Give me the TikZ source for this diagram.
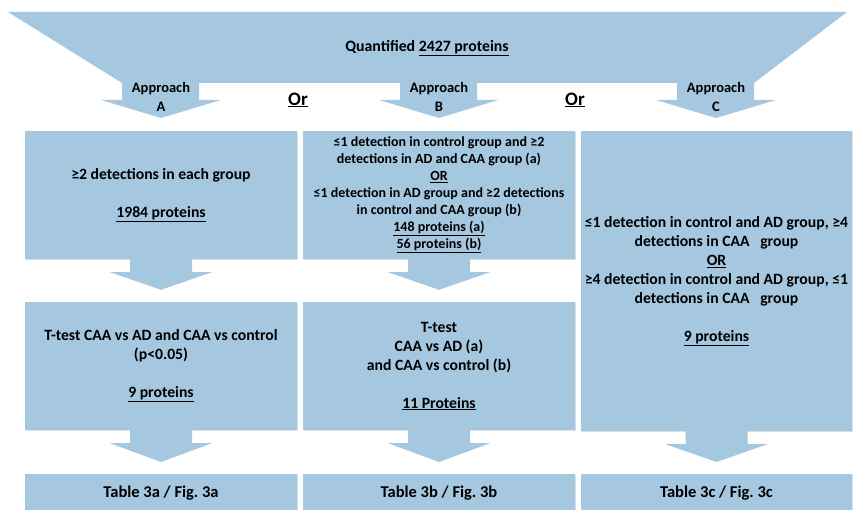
\documentclass[tikz,border=0pt]{standalone}
\usepackage{fontspec}
\setmainfont{Carlito}
\frenchspacing
\usetikzlibrary{calc,shadows}
\definecolor{boxblue}{RGB}{166,199,224}
\tikzset{
  box/.style={fill=boxblue, inner sep=0pt, align=center,
    font=\bfseries\fontsize{15.7}{19}\selectfont,
    drop shadow={shadow xshift=1pt, shadow yshift=-1pt, opacity=.25}},
  smalltext/.style={font=\bfseries\fontsize{14}{17}\selectfont},
  tablebox/.style={anchor=north, minimum width=272pt, inner ysep=4pt,
    text height=19pt, text depth=30pt, font=\bfseries\fontsize{16.5}{19}\selectfont},
  label/.style={inner sep=0pt, align=center, font=\bfseries\fontsize{14.5}{18.4}\selectfont},
  arrfill/.style={fill=boxblue}
}
% block arrow from the foot of one box to the head of the next
\newcommand{\blockarr}[2]{%
  \fill[arrfill] ($(#1.south)+(-31,0)$) -- ($(#1.south)+(31,0)$) -- ($(#1.south)+(31,13)$)
    -- ($(#1.south)+(51,13)$) -- ($(#2.north)+(0,-12)$) -- ($(#1.south)+(-51,13)$)
    -- ($(#1.south)+(-31,13)$) -- cycle;}
\begin{document}
\begin{tikzpicture}[x=1pt, y=-1pt]
\useasboundingbox (0,0) rectangle (854,510);
\clip (0,0) rectangle (854,510);

% top band splitting into three approaches
\fill[arrfill] (8,12) -- (847,12) -- (754,83) -- (754,100) -- (776,100) -- (716,118)
  -- (656,100) -- (677,100) -- (677,83) -- (477,83) -- (477,100) -- (498,100) -- (439,118)
  -- (379,100) -- (400,100) -- (400,83) -- (199,83) -- (199,100) -- (221,100) -- (161,118)
  -- (101,100) -- (122,100) -- (122,83) -- cycle;
\node[label, font=\bfseries\fontsize{15.8}{19}\selectfont] (quant) at (427,48) {Quantified \underline{2427 proteins}};
\node[label] (appA) at (161,97) {Approach\\A};
\node[label] (appB) at (439,97) {Approach\\B};
\node[label] (appC) at (716,97) {Approach\\C};
\node[label, font=\bfseries\fontsize{19}{22}\selectfont] (orAB) at (298,100) {\underline{Or}};
\node[label, font=\bfseries\fontsize{19}{22}\selectfont] (orBC) at (575,100) {\underline{Or}};

% first selection
\node[box, minimum width=272pt, minimum height=128pt] (selA) at (161,195)
  {≥2 detections in each group\\[19pt]\underline{1984 proteins}};
\node[box, smalltext, minimum width=272pt, minimum height=128pt] (selB) at (439,195)
  {≤1 detection in control group and ≥2\\detections in AD and CAA group (a)\\\underline{OR}\\
   ≤1 detection in AD group and ≥2 detections\\in control and CAA group (b)\\
   \underline{148 proteins (a)}\\\underline{56 proteins (b)}};
\node[box, minimum width=271pt, minimum height=300pt] (selC) at (716.5,281)
  {≤1 detection in control and AD group, ≥4\\detections in CAA\ \ \ group\\\underline{OR}\\
   ≥4 detection in control and AD group, ≤1\\detections in CAA\ \ \ group\\[19pt]
   \underline{9 proteins}};

% t-tests
\node[box, minimum width=272pt, minimum height=128pt] (testA) at (161,366)
  {T-test CAA vs AD and CAA vs control\\(p<0.05)\\[19pt]\underline{9 proteins}};
\node[box, minimum width=272pt, minimum height=128pt] (testB) at (439,366)
  {T-test\\CAA vs AD (a)\\and CAA vs control (b)\\[19pt]\underline{11 Proteins}};

% results
\node[box, tablebox] (tabA) at (161,474) {Table 3a / Fig. 3a};
\node[box, tablebox] (tabB) at (439,474) {Table 3b / Fig. 3b};
\node[box, tablebox, minimum width=271pt] (tabC) at (716.5,474) {Table 3c / Fig. 3c};

\blockarr{selA}{testA}
\blockarr{selB}{testB}
\blockarr{testA}{tabA}
\blockarr{testB}{tabB}
\blockarr{selC}{tabC}
\end{tikzpicture}
\end{document}
